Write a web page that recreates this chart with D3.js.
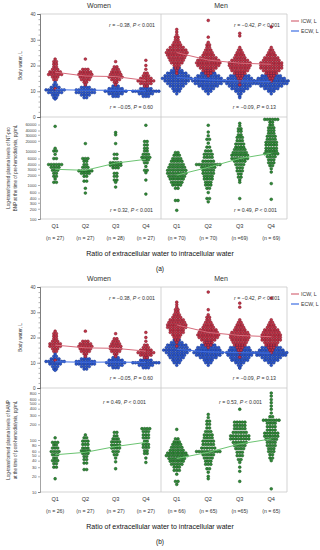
<!DOCTYPE html>
<html>
<head>
<meta charset="utf-8">
<script src="https://cdn.jsdelivr.net/npm/d3@7"></script>
<style>
body { margin: 0; background: #fff; }
svg text { font-family: "Liberation Sans", Arial, sans-serif; fill: #333; }
</style>
</head>
<body>
<script>
const quartiles = ['Q1', 'Q2', 'Q3', 'Q4'];
const nWomenA = ['(n = 27)', '(n = 27)', '(n = 28)', '(n = 27)'];
const nMenA = ['(n = 70)', '(n = 70)', '(n =69)', '(n = 69)'];
const nWomenB = ['(n = 26)', '(n = 27)', '(n = 27)', '(n = 27)'];
const nMenB = ['(n = 66)', '(n = 65)', '(n =65)', '(n = 65)'];

const waterTicks = [0, 10, 20, 30, 40];
const bnpTicks = [100, 200, 300, 400, 600, 1000, 2000, 3000, 4000, 6000, 10000, 20000, 30000, 40000, 60000];
const anpTicks = [10, 20, 30, 40, 50, 60, 80, 100, 200, 300, 400, 500, 600, 800];

// dot rows: [value, number of dots in that row]
const icwWomenA = [
  [[22.5,1],[21.5,2],[20.5,2],[19.5,2],[18.5,3],[17.5,5],[16.5,6],[15.5,3],[14.5,2],[11,1]],
  [[22.5,1],[18.5,3],[17.5,5],[16.5,6],[15.5,5],[14.5,4],[13.5,2],[12.5,1]],
  [[21.5,1],[19.5,2],[18.5,3],[17.5,4],[16.5,5],[15.5,6],[14.5,4],[13.5,2],[12.5,1]],
  [[22,1],[20,1],[18.5,1],[17,2],[16,3],[15,5],[14,7],[13,5],[12,2]]
];
const ecwWomenA = [
  [[13.5,1],[12.5,2],[11.5,4],[10.5,8],[9.5,6],[8.5,3],[7.5,2],[7,1]],
  [[12.5,1],[11.5,4],[10.5,8],[9.5,8],[8.5,4],[7.5,2]],
  [[13,1],[12,3],[11,6],[10,9],[9,6],[8,3]],
  [[12,2],[11,5],[10,11],[9,6],[8,3]]
];
const icwMenA = [
  [[34,1],[33,1],[32,1],[31,2],[30,2],[29,3],[28,4],[27,6],[26,8],[25,9],[24,8],[23,7],[22,6],[21,5],[20,3],[19,2],[18,1],[17,1]],
  [[37.5,1],[31,1],[29,1],[28,2],[27,2],[26,3],[25,4],[24,5],[23,7],[22,9],[21,10],[20,9],[19,7],[18,5],[17,3],[16,1]],
  [[32.5,1],[31.5,1],[27,1],[26,2],[25,3],[24,4],[23,5],[22,7],[21,9],[20,9],[19,8],[18,7],[17,5],[16,3],[15,2],[14,1],[12.5,1]],
  [[35,1],[27,1],[26,2],[25,3],[24,4],[23,6],[22,7],[21,9],[20,9],[19,9],[18,7],[17,5],[16,3],[15,2],[14,1]]
];
const ecwMenA = [
  [[19,3],[18,5],[17,8],[16,10],[15,12],[14,10],[13,8],[12,6],[11,4],[10,3],[9,1]],
  [[18,3],[17,6],[16,9],[15,11],[14,13],[13,11],[12,8],[11,5],[10,3],[9,1]],
  [[17,4],[16,8],[15,10],[14,12],[13,11],[12,9],[11,7],[10,4],[9,2],[8,1],[7.5,1]],
  [[17,4],[16,8],[15,11],[14,14],[13,13],[12,9],[11,6],[10,3],[9,1]]
];
const bnpWomen = [
  [[53000,1],[12000,1],[10000,2],[8000,1],[6000,2],[4000,6],[3300,4],[2700,3],[2200,2],[1800,2],[1500,1],[1200,2]],
  [[16500,1],[6000,3],[5000,2],[4000,2],[3300,3],[2600,6],[2200,4],[1800,2],[1300,2],[800,1],[580,1]],
  [[35000,1],[30000,1],[16500,1],[8000,2],[6000,2],[4500,5],[3800,5],[3200,3],[2200,2],[1800,2],[1400,2],[1200,1],[870,1]],
  [[57000,1],[19000,2],[15000,2],[12000,2],[10000,2],[8000,3],[6500,4],[5500,3],[4500,2],[3500,1],[2700,2],[2300,1],[1400,1],[540,1]]
];
const bnpMen = [
  [[9000,2],[7500,3],[6000,4],[5000,5],[4000,6],[3300,7],[2700,8],[2200,8],[1800,7],[1500,6],[1200,5],[1000,4],[800,2],[350,2],[180,1]],
  [[57000,1],[36000,1],[28000,1],[22000,2],[17000,1],[13000,2],[10000,3],[8000,4],[6500,4],[5000,5],[4000,10],[3300,6],[2700,5],[2200,5],[1800,4],[1500,4],[1200,3],[1000,3],[800,2],[600,1],[400,2],[320,1]],
  [[65000,1],[55000,1],[45000,2],[38000,2],[30000,2],[25000,3],[20000,3],[16000,4],[13000,4],[11000,5],[9000,6],[7500,7],[6000,7],[5000,5],[4000,4],[3200,3],[2600,3],[2100,2],[1700,2],[1400,1],[1200,1],[400,1]],
  [[85000,6],[70000,2],[58000,2],[48000,3],[40000,3],[33000,3],[27000,4],[22000,4],[18000,5],[15000,5],[12000,5],[10000,5],[8300,6],[6800,4],[5500,3],[4500,3],[3700,2],[3000,1],[2400,1],[1100,1],[380,1]]
];

const icwWomenB = [
  [[22.5,1],[21.5,2],[20.5,2],[19.5,2],[18.5,3],[17.5,5],[16.5,5],[15.5,3],[14.5,2],[11,1]],
  [[22.5,1],[18.5,3],[17.5,5],[16.5,6],[15.5,5],[14.5,4],[13.5,2],[12.5,1]],
  [[21.5,1],[19.5,2],[18.5,3],[17.5,4],[16.5,5],[15.5,5],[14.5,4],[13.5,2],[12.5,1]],
  [[22,1],[20,1],[18.5,1],[17,2],[16,3],[15,5],[14,7],[13,5],[12,2]]
];
const ecwWomenB = [
  [[13.5,1],[12.5,2],[11.5,4],[10.5,8],[9.5,5],[8.5,3],[7.5,2],[7,1]],
  [[12.5,1],[11.5,4],[10.5,8],[9.5,8],[8.5,4],[7.5,2]],
  [[13,1],[12,3],[11,6],[10,8],[9,6],[8,3]],
  [[12,2],[11,5],[10,11],[9,6],[8,3]]
];
const icwMenB = [
  [[34,1],[33,1],[32,1],[31,2],[30,2],[29,3],[28,4],[27,6],[26,7],[25,8],[24,8],[23,6],[22,6],[21,4],[20,3],[19,2],[18,1],[16.6,1]],
  [[38,1],[31,1],[29,1],[28,2],[27,2],[26,3],[25,4],[24,5],[23,7],[22,8],[21,9],[20,8],[19,6],[18,4],[17,3],[16,1]],
  [[33.6,1],[32,1],[27,1],[26,2],[25,3],[24,4],[23,5],[22,7],[21,8],[20,8],[19,7],[18,6],[17,5],[16,3],[15,2],[14,1],[12.2,1]],
  [[35.6,1],[27,1],[26,2],[25,3],[24,4],[23,6],[22,7],[21,8],[20,8],[19,8],[18,6],[17,5],[16,3],[15,2],[14,1]]
];
const ecwMenB = [
  [[19,3],[18,5],[17,8],[16,9],[15,11],[14,9],[13,7],[12,6],[11,4],[10,3],[9,1]],
  [[18,3],[17,6],[16,9],[15,10],[14,12],[13,10],[12,7],[11,4],[10,3],[9,1]],
  [[17,4],[16,8],[15,9],[14,11],[13,10],[12,8],[11,7],[10,4],[9,2],[8,1],[7.9,1]],
  [[17,4],[16,8],[15,10],[14,13],[13,12],[12,8],[11,6],[10,3],[9,1]]
];
const anpWomen = [
  [[110,1],[90,3],[80,2],[70,3],[60,4],[52,3],[45,2],[40,3],[35,2],[30,2],[18,1]],
  [[125,1],[110,2],[95,3],[82,3],[70,3],[62,4],[55,3],[48,2],[42,2],[36,2],[27,2]],
  [[140,2],[120,2],[105,3],[92,4],[80,4],[70,4],[60,3],[52,2],[45,1],[38,1],[28,1]],
  [[165,4],[145,3],[125,3],[110,3],[95,2],[82,3],[72,3],[62,2],[55,2],[45,1],[37,1]]
];
const anpMen = [
  [[160,1],[105,2],[92,3],[82,4],[72,5],[63,6],[56,8],[50,9],[44,7],[39,6],[34,5],[30,3],[26,3],[22,1],[16,2],[14,1]],
  [[310,1],[270,1],[230,2],[200,2],[170,2],[145,3],[125,4],[110,4],[95,5],[82,5],[70,6],[60,10],[52,5],[45,4],[39,3],[34,3],[28,2],[24,1],[20,1],[18,1]],
  [[390,1],[220,5],[190,5],[165,5],[140,6],[120,8],[105,8],[90,6],[78,5],[68,4],[58,3],[50,3],[42,2],[37,1],[30,1],[25,1],[16,1]],
  [[800,1],[700,1],[600,1],[520,1],[450,1],[390,1],[330,1],[280,2],[240,7],[210,4],[180,4],[155,4],[135,6],[118,6],[103,5],[90,4],[78,4],[68,3],[60,3],[52,2],[45,2],[40,1],[11.5,1]]
];

// trend lines through the quartiles
const icwWomenTrendA = [17.4, 15.9, 15.7, 14.2];
const ecwWomenTrendA = [10.6, 10.4, 10.4, 10.2];
const icwMenTrendA = [25.0, 22.1, 20.9, 20.5];
const ecwMenTrendA = [15.4, 14.4, 14.0, 13.8];
const bnpWomenTrend = [2900, 2700, 4400, 5700];
const bnpMenTrend = [1950, 3300, 6000, 8600];
const icwWomenTrendB = [17.0, 15.9, 15.7, 14.6];
const ecwWomenTrendB = [10.4, 10.2, 10.3, 10.1];
const icwMenTrendB = [25.0, 22.0, 20.8, 20.3];
const ecwMenTrendB = [15.3, 14.3, 14.0, 13.8];
const anpWomenTrend = [52, 58, 75, 90];
const anpMenTrend = [44, 58, 84, 105];

const statsA = [['−0.38', '< 0.001'], ['−0.05', '= 0.60'], ['−0.42', '< 0.001'], ['−0.09', '= 0.13'], ['0.32', '< 0.001'], ['0.49', '< 0.001']];
const statsB = [['−0.38', '< 0.001'], ['−0.05', '= 0.60'], ['−0.42', '< 0.001'], ['−0.09', '= 0.13'], ['0.49', '< 0.001'], ['0.53', '< 0.001']];

const red = {fill: '#c23548', stroke: '#7c1526', line: '#d66b7b'};
const blue = {fill: '#2b55cf', stroke: '#173683', line: '#3f6ee3'};
const green = {fill: '#2f8b37', stroke: '#17501d', line: '#6cc472'};

const svg = d3.select('body').append('svg')
  .attr('width', 320)
  .attr('height', 550);

const xWomen = d3.scaleBand().domain(quartiles).range([40, 161]);
const xMen = d3.scaleBand().domain(quartiles).range([161, 287]);
const dx = 2.6, r = 1.4;

function swarm(g, groups, x, y, col) {
  const pts = [];
  groups.forEach((rows, qi) => {
    rows.forEach(([v, c]) => {
      for (let i = 0; i < c; i++) pts.push({q: quartiles[qi], v: v, off: i - (c - 1) / 2});
    });
  });
  g.append('g').selectAll('circle')
    .data(pts)
    .enter().append('circle')
    .attr('cx', d => x(d.q) + x.bandwidth() / 2 + d.off * dx)
    .attr('cy', d => y(d.v))
    .attr('r', r)
    .style('fill', col.fill)
    .style('stroke', col.stroke)
    .style('stroke-width', 0.5);
}

function trend(g, vals, x, y, col) {
  g.append('path')
    .datum(vals)
    .attr('d', d3.line().x((d, i) => x(quartiles[i]) + x.bandwidth() / 2).y(d => y(d)))
    .style('fill', 'none')
    .style('stroke', col.line)
    .style('stroke-width', 1);
}

function stat(g, x, y, s) {
  const t = g.append('text').attr('x', x).attr('y', y)
    .attr('text-anchor', 'end').style('font-size', '5.2px');
  t.append('tspan').style('font-style', 'italic').text('r');
  t.append('tspan').text(` = ${s[0]}, `);
  t.append('tspan').style('font-style', 'italic').text('P');
  t.append('tspan').text(` ${s[1]}`);
}

function styleAxis(a) {
  a.select('.domain').style('stroke', '#666').style('stroke-width', 0.6);
  a.selectAll('.tick line').style('stroke', '#666').style('stroke-width', 0.5);
  a.selectAll('.tick text').style('font-size', '4.6px').style('fill', '#444');
}

function figure(o) {
  const g = svg.append('g');
  const yW = d3.scaleLinear().domain([0, 40]).range([o.mid, o.top]);
  const yL = d3.scaleLog().domain(o.logDomain).range([o.bottom, o.mid]);

  // frame
  const frame = [[40, o.top, 287, o.top], [287, o.top, 287, o.bottom], [40, o.bottom, 287, o.bottom],
                 [40, o.mid, 287, o.mid], [161, o.top, 161, o.bottom]];
  g.selectAll('.frame').data(frame).enter().append('line')
    .attr('x1', d => d[0]).attr('y1', d => d[1]).attr('x2', d => d[2]).attr('y2', d => d[3])
    .style('stroke', '#c8c8c8').style('stroke-width', 0.8);

  // axes
  const aMinor = g.append('g').attr('transform', 'translate(40,0)')
    .call(d3.axisLeft(yW).tickValues(d3.range(0, 41, 2)).tickSize(1.5).tickFormat(''));
  styleAxis(aMinor);
  const aW = g.append('g').attr('transform', 'translate(40,0)')
    .call(d3.axisLeft(yW).tickValues(waterTicks).tickSize(3).tickPadding(1.5));
  styleAxis(aW);
  const aL = g.append('g').attr('transform', 'translate(40,0)')
    .call(d3.axisLeft(yL).tickValues(o.logTicks).tickSize(2).tickPadding(1.5).tickFormat(d => String(d)));
  styleAxis(aL);
  aL.selectAll('.tick text').style('font-size', '4px');

  // titles
  g.append('text').attr('x', 99).attr('y', o.top - 6).attr('text-anchor', 'middle')
    .style('font-size', '7px').text('Women');
  g.append('text').attr('x', 221).attr('y', o.top - 6).attr('text-anchor', 'middle')
    .style('font-size', '7px').text('Men');
  g.append('text')
    .attr('transform', `translate(22,${(o.top + o.mid) / 2}) rotate(-90)`)
    .attr('text-anchor', 'middle').style('font-size', '4.8px').text('Body water, L');
  o.logTitle.forEach((line, i) => {
    g.append('text')
      .attr('transform', `translate(${10 + i * 7},${(o.mid + o.bottom) / 2}) rotate(-90)`)
      .attr('text-anchor', 'middle').style('font-size', '4.5px').text(line);
  });

  // dots
  swarm(g, o.ecwW, xWomen, yW, blue);
  swarm(g, o.icwW, xWomen, yW, red);
  swarm(g, o.ecwM, xMen, yW, blue);
  swarm(g, o.icwM, xMen, yW, red);
  swarm(g, o.logW, xWomen, yL, green);
  swarm(g, o.logM, xMen, yL, green);

  trend(g, o.tEcwW, xWomen, yW, blue);
  trend(g, o.tIcwW, xWomen, yW, red);
  trend(g, o.tEcwM, xMen, yW, blue);
  trend(g, o.tIcwM, xMen, yW, red);
  trend(g, o.tLogW, xWomen, yL, green);
  trend(g, o.tLogM, xMen, yL, green);

  // stats
  stat(g, 155, o.top + 13, o.stats[0]);
  stat(g, 153, o.mid - 8, o.stats[1]);
  stat(g, 280, o.top + 13, o.stats[2]);
  stat(g, 276, o.mid - 8, o.stats[3]);
  stat(g, o.statLow[0], o.statLow[1], o.stats[4]);
  stat(g, o.statLow[2], o.statLow[3], o.stats[5]);

  // legend
  [['ICW, L', red], ['ECW, L', blue]].forEach(([lab, col], i) => {
    const ly = o.top + 7 + i * 10;
    g.append('line').attr('x1', 291).attr('x2', 299).attr('y1', ly).attr('y2', ly)
      .style('stroke', col.line).style('stroke-width', 1.2);
    g.append('text').attr('x', 301).attr('y', ly + 1.8).style('font-size', '5.2px').text(lab);
  });

  // quartile labels
  [[xWomen, o.nW], [xMen, o.nM]].forEach(([x, ns]) => {
    g.selectAll(null).data(quartiles).enter().append('text')
      .attr('x', d => x(d) + x.bandwidth() / 2).attr('y', o.bottom + 9)
      .attr('text-anchor', 'middle').style('font-size', '5.6px').text(d => d);
    g.selectAll(null).data(ns).enter().append('text')
      .attr('x', (d, i) => x(quartiles[i]) + x.bandwidth() / 2).attr('y', o.bottom + 21)
      .attr('text-anchor', 'middle').style('font-size', '5.2px').text(d => d);
  });

  g.append('text').attr('x', 160).attr('y', o.bottom + 37).attr('text-anchor', 'middle')
    .style('font-size', '7px').style('fill', '#111').text('Ratio of extracellular water to intracellular water');
  g.append('text').attr('x', 160).attr('y', o.bottom + 52).attr('text-anchor', 'middle')
    .style('font-size', '6.5px').style('fill', '#111').text(o.tag);
}

figure({
  top: 14, mid: 117, bottom: 219,
  logDomain: [100, 100000], logTicks: bnpTicks,
  logTitle: ['Log-transformed plasma levels of NT-pro', 'BNP at the time of pre-hemodialysis, pg/mL'],
  icwW: icwWomenA, ecwW: ecwWomenA, icwM: icwMenA, ecwM: ecwMenA, logW: bnpWomen, logM: bnpMen,
  tIcwW: icwWomenTrendA, tEcwW: ecwWomenTrendA, tIcwM: icwMenTrendA, tEcwM: ecwMenTrendA,
  tLogW: bnpWomenTrend, tLogM: bnpMenTrend,
  stats: statsA, statLow: [153, 212, 277, 212],
  nW: nWomenA, nM: nMenA, tag: '(a)'
});

figure({
  top: 287, mid: 388, bottom: 492,
  logDomain: [10, 1000], logTicks: anpTicks,
  logTitle: ['Log-transformed plasma levels of hANP', 'at the time of post-hemodialysis, pg/mL'],
  icwW: icwWomenB, ecwW: ecwWomenB, icwM: icwMenB, ecwM: ecwMenB, logW: anpWomen, logM: anpMen,
  tIcwW: icwWomenTrendB, tEcwW: ecwWomenTrendB, tIcwM: icwMenTrendB, tEcwM: ecwMenTrendB,
  tLogW: anpWomenTrend, tLogM: anpMenTrend,
  stats: statsB, statLow: [146, 404, 262, 404],
  nW: nWomenB, nM: nMenB, tag: '(b)'
});
</script>
</body>
</html>
